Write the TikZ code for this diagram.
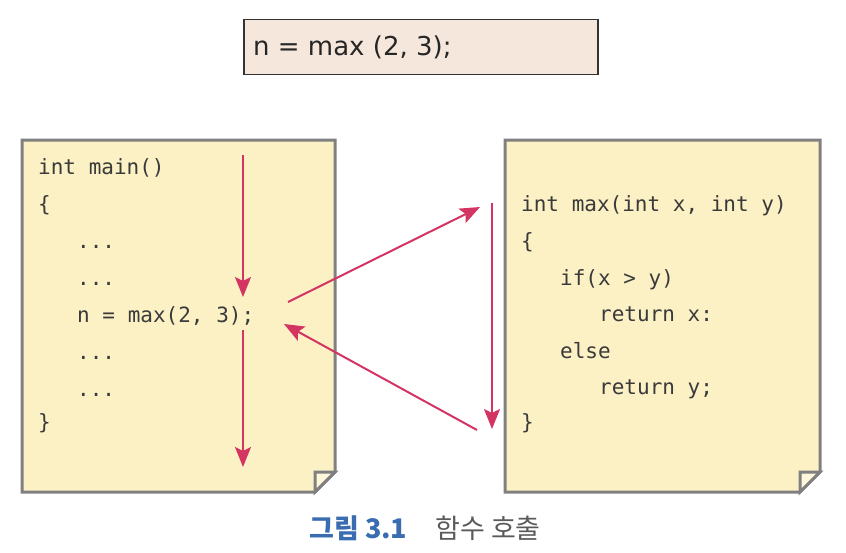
\documentclass[tikz,border=0pt]{standalone}
\usepackage{fontspec}
\setmainfont{DejaVu Sans}
\setmonofont{DejaVu Sans Mono}
\newfontfamily\cjk{Noto Sans CJK KR}
\usetikzlibrary{arrows.meta,positioning}

\definecolor{pagefill}{RGB}{252,240,197}
\definecolor{foldfill}{RGB}{254,247,218}
\definecolor{pageline}{RGB}{128,128,128}
\definecolor{callfill}{RGB}{246,231,220}
\definecolor{flow}{RGB}{212,52,98}
\definecolor{codetext}{RGB}{58,58,58}
\definecolor{capblue}{RGB}{58,108,178}
\definecolor{capgray}{RGB}{90,90,90}

\begin{document}
\begin{tikzpicture}
[x=1pt, y=-1pt,
		page/.style={draw=pageline,line width=3pt,fill=pagefill,line join=miter},
		fold/.style={draw=pageline,line width=3pt,fill=foldfill,line join=miter},
		callbox/.style={rectangle,draw=black!80,line width=1.5pt,fill=callfill,minimum width=354pt,minimum height=55pt,inner sep=0pt},
		code/.style={anchor=base west,inner sep=0pt,text=codetext,font=\ttfamily\fontsize{21}{25}\selectfont},
		flowArrow/.style={-{Stealth[length=20pt,width=16pt,inset=4pt]},draw=flow,fill=flow,line width=2pt}]

	\useasboundingbox (0,0) rectangle (846,552);

	% statement on top
	\node[callbox] (call) at (421,47) {};
	\node[anchor=west,inner sep=0pt,text=black!85,font=\fontsize{26}{31}\selectfont] (callText) at (253,47) {n = max (2, 3);};

	% the two pages
	\draw[page] (22,140) -- (335,140) -- (335,472) -- (315,492) -- (22,492) -- cycle;
	\draw[fold] (315,492) -- (315,472) -- (335,472) -- cycle;
	\draw[page] (505,140) -- (820,140) -- (820,472) -- (800,492) -- (505,492) -- cycle;
	\draw[fold] (800,492) -- (800,472) -- (820,472) -- cycle;

	% main()
	\node[code] (mainHead) at (38,174) {int main()};
	\node[code] (mainOpen) at (38,211) {\{};
	\node[code] (dots1) at (77,248) {...};
	\node[code] (dots2) at (77,285) {...};
	\node[code] (callLine) at (77,322) {n = max(2, 3);};
	\node[code] (dots3) at (77,359) {...};
	\node[code] (dots4) at (77,396) {...};
	\node[code] (mainClose) at (38,429) {\}};

	% max()
	\node[code] (maxHead) at (521,211) {int max(int x, int y)};
	\node[code] (maxOpen) at (521,248) {\{};
	\node[code] (ifLine) at (560,285) {if(x > y)};
	\node[code] (retX) at (599,321) {return x:};
	\node[code] (elseLine) at (560,358) {else};
	\node[code] (retY) at (599,394) {return y;};
	\node[code] (maxClose) at (521,429) {\}};

	% flow of control
	\coordinate (mainTop) at (243,155);
	\coordinate (mainStop) at (243,297);
	\coordinate (mainGo) at (243,330);
	\coordinate (mainEnd) at (243,467);
	\coordinate (callOut) at (288,302);
	\coordinate (maxIn) at (480,207);
	\coordinate (maxTop) at (492,203);
	\coordinate (maxEnd) at (492,429);
	\coordinate (maxOut) at (477,430);
	\coordinate (callBack) at (284,324);

	\draw[flowArrow] (mainTop) -- (mainStop);
	\draw[flowArrow] (mainGo) -- (mainEnd);
	\draw[flowArrow] (callOut) -- (maxIn);
	\draw[flowArrow] (maxTop) -- (maxEnd);
	\draw[flowArrow] (maxOut) -- (callBack);

	% caption
	\node[inner sep=0pt,font=\cjk\fontsize{27}{32}\selectfont] (caption) at (425,528)
		{\textcolor{capblue}{\bfseries 그림 3.1}\hspace{28pt}\textcolor{capgray}{함수 호출}};
\end{tikzpicture}
\end{document}
